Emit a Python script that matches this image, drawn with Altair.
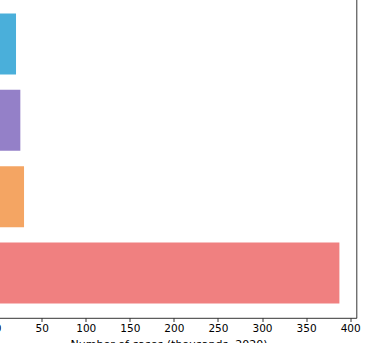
import altair as alt
import pandas as pd

categories = ["A", "B", "C", "D"]
values = [20.9, 25.8, 30.0, 387.8]
colors = ["#4AAFDA", "#9480C8", "#F4A563", "#F08080"]
tick_values = [0, 50, 100, 150, 200, 250, 300, 350, 400]
x_title = "Number of cases (thousands, 2020)"

df = pd.DataFrame({"category": categories, "value": values, "color": colors})

chart = alt.Chart(df).mark_bar().encode(
    y=alt.Y("category:N", sort=categories, axis=None,
            scale=alt.Scale(paddingInner=0.2, paddingOuter=0.19)),
    x=alt.X("value:Q",
            scale=alt.Scale(domain=[-19.4, 407.2], nice=False, zero=False),
            axis=alt.Axis(values=tick_values, grid=False, title=x_title,
                          domain=False, tickColor="black", tickSize=3.5,
                          tickWidth=0.8, labelFont="DejaVu Sans", labelFontSize=10.5,
                          labelColor="black", labelPadding=2,
                          titleFont="DejaVu Sans", titleFontSize=11,
                          titleFontWeight="normal", titleColor="black",
                          titlePadding=4)),
    color=alt.Color("color:N", scale=None),
).properties(
    width=376, height=319,
    autosize=alt.AutoSizeParams(type="none"),
    padding={"left": -19.5, "top": -1, "right": 12, "bottom": 25},
).configure_view(stroke="black", strokeWidth=0.8)

chart.save("out.html", embed_options={"renderer": "svg", "actions": False})
